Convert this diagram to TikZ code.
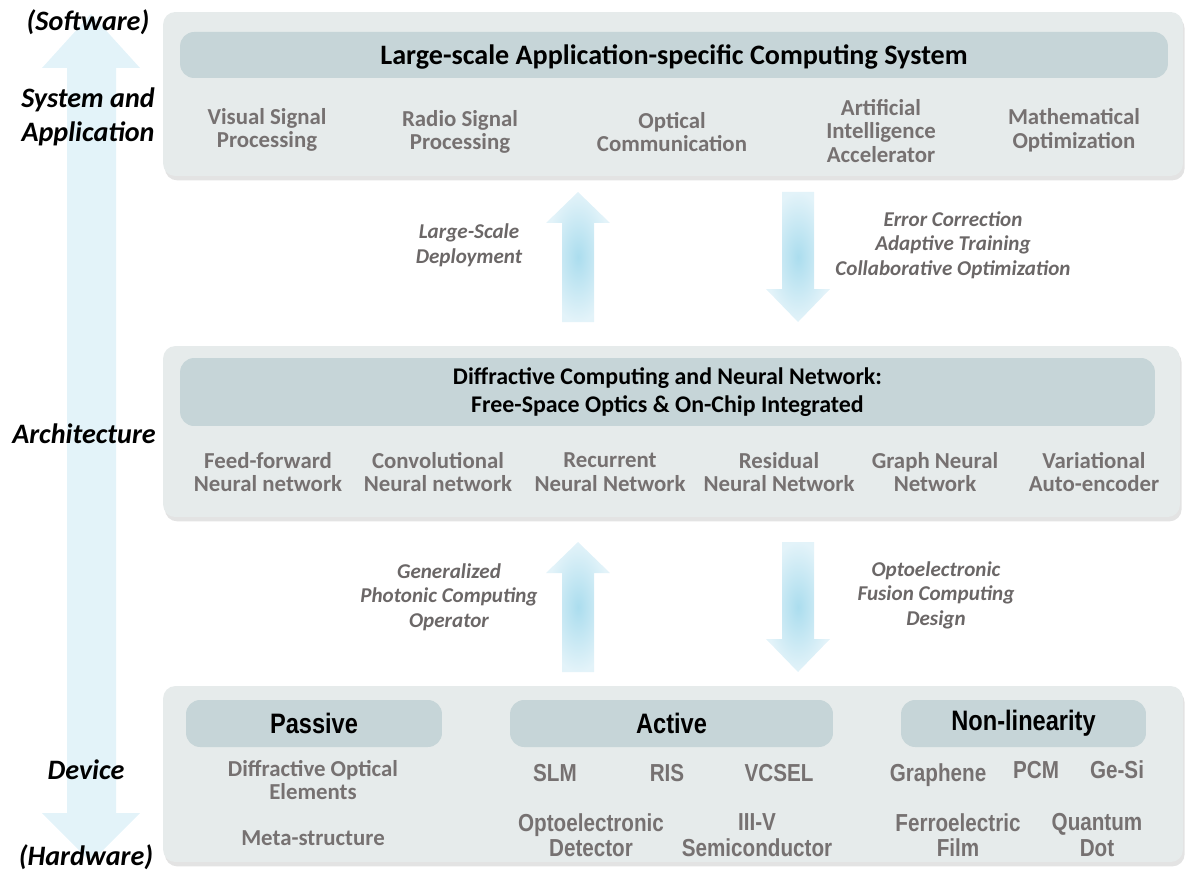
\documentclass[tikz,border=0pt]{standalone}
\usepackage{fontspec}
\setmainfont{Carlito}
\newfontfamily\narrowfont[FakeStretch=0.84]{Liberation Sans}
\usetikzlibrary{shadows}

\definecolor{panelgray}{HTML}{E6EBEB}
\definecolor{headgray}{HTML}{C6D5D8}
\definecolor{itemgray}{HTML}{767171}
\definecolor{notegray}{HTML}{6B6767}
\definecolor{arrowlight}{HTML}{E3F3F9}
\definecolor{arrowdark}{HTML}{ABDDEE}

\tikzset{
  panel/.style={rounded corners=7pt, fill=panelgray, inner sep=0pt,
    drop shadow={shadow xshift=1pt, shadow yshift=-2.5pt, opacity=0.22, fill=gray}},
  headbar/.style={rounded corners=8pt, fill=headgray, inner sep=0pt},
  title/.style={font=\bfseries\fontsize{16}{19}\selectfont, align=center, inner sep=0pt},
  item/.style={font=\bfseries\fontsize{13}{13.5}\selectfont, text=itemgray, align=center, inner sep=0pt},
  devitem/.style={font=\narrowfont\bfseries\fontsize{14}{14.5}\selectfont, text=itemgray, align=center, inner sep=0pt},
  group/.style={font=\narrowfont\bfseries\fontsize{16}{18}\selectfont, inner sep=0pt},
  note/.style={font=\bfseries\itshape\fontsize{12}{14}\selectfont, text=notegray, align=center, inner sep=0pt},
  level/.style={font=\bfseries\itshape\fontsize{16}{19.5}\selectfont, align=center, inner sep=0pt},
  fatarrow/.style={inner color=arrowdark, outer color=arrowlight}
}

\begin{document}
\begin{tikzpicture}[x=0.02cm, y=-0.02cm]
  \useasboundingbox (0,0) rectangle (1185,871);

  % Software-hardware axis
  \shade[top color=arrowlight, middle color=arrowdark, bottom color=arrowlight]
    (91,14) -- (140,68) -- (116,68) -- (116,813) -- (140,813) -- (91,862)
    -- (42,813) -- (67,813) -- (67,68) -- (42,68) -- cycle;
  \node[level] (sw) at (88,22) {(Software)};
  \node[level] (sysapp) at (88,117) {System and\\Application};
  \node[level] (arch) at (84,434) {Architecture};
  \node[level] (device) at (86,770) {Device};
  \node[level] (hw) at (86,857) {(Hardware)};

  % System and application layer
  \node[panel, minimum width=20.4cm, minimum height=3.28cm] (app) at (673,94) {};
  \node[headbar, minimum width=19.76cm, minimum height=0.92cm] (apphead) at (674,55) {};
  \node[title] (apptitle) at (674,57) {Large-scale Application-specific Computing System};
  \node[item] (vsp) at (267,130) {Visual Signal\\Processing};
  \node[item] (rsp) at (460,132) {Radio Signal\\Processing};
  \node[item] (optcom) at (672,132) {Optical\\Communication};
  \node[item] (aiacc) at (881,131) {Artificial\\Intelligence\\Accelerator};
  \node[item] (mathopt) at (1074,130) {Mathematical\\Optimization};

  % Arrows between application and architecture
  \shade[fatarrow] (562,322) -- (562,223) -- (546,223) -- (578,192) -- (610,223)
    -- (594,223) -- (594,322) -- cycle;
  \shade[fatarrow] (782,192) -- (782,289) -- (766,289) -- (798,322) -- (830,289)
    -- (814,289) -- (814,192) -- cycle;
  \node[note] (deploy) at (469,245) {Large-Scale\\Deployment};
  \node[note] (errcorr) at (953,245) {Error Correction\\Adaptive Training\\Collaborative Optimization};

  % Architecture layer
  \node[panel, minimum width=20.34cm, minimum height=3.42cm] (archpanel) at (671.5,431.5) {};
  \node[headbar, minimum width=19.5cm, minimum height=1.36cm] (archhead) at (667.5,392) {};
  \node[title, font=\bfseries\fontsize{13.6}{16}\selectfont] (archtitle) at (archhead)
    {Diffractive Computing and Neural Network:\\Free-Space Optics \& On-Chip Integrated};
  \node[item] (ffnn) at (268,472) {Feed-forward\\Neural network};
  \node[item] (cnn) at (438,472) {Convolutional\\Neural network};
  \node[item] (rnn) at (610,472) {Recurrent\\Neural Network};
  \node[item] (resnn) at (779,472) {Residual\\Neural Network};
  \node[item] (gnn) at (935,472) {Graph Neural\\Network};
  \node[item] (vae) at (1094,472) {Variational\\Auto-encoder};

  % Arrows between architecture and device
  \shade[fatarrow] (562,672) -- (562,573) -- (546,573) -- (578,542) -- (610,573)
    -- (594,573) -- (594,672) -- cycle;
  \shade[fatarrow] (782,542) -- (782,639) -- (766,639) -- (798,672) -- (830,639)
    -- (814,639) -- (814,542) -- cycle;
  \node[note] (photop) at (449,597) {Generalized\\Photonic Computing\\Operator};
  \node[note] (fusion) at (936,595) {Optoelectronic\\Fusion Computing\\Design};

  % Device layer
  \node[panel, minimum width=20.4cm, minimum height=3.52cm] (devpanel) at (673,774) {};
  \node[headbar, minimum width=5.12cm, minimum height=0.94cm] (passhead) at (314,723.5) {};
  \node[headbar, minimum width=6.46cm, minimum height=0.94cm] (acthead) at (671.5,723.5) {};
  \node[headbar, minimum width=4.9cm, minimum height=0.94cm] (nonhead) at (1023.5,723.5) {};
  \node[group] (passive) at (passhead) {Passive};
  \node[group] (active) at (acthead) {Active};
  \node[group] (nonlin) at (nonhead) {Non-linearity};

  \node[item] (doe) at (313,780) {Diffractive Optical\\Elements};
  \node[item] (meta) at (313,838) {Meta-structure};
  \node[devitem] (slm) at (555,773) {SLM};
  \node[devitem] (ris) at (667,773) {RIS};
  \node[devitem] (vcsel) at (779,773) {VCSEL};
  \node[devitem] (oedet) at (591,835) {Optoelectronic\\Detector};
  \node[devitem] (iiiv) at (757,835) {III-V\\Semiconductor};
  \node[devitem] (graphene) at (938,775) {Graphene};
  \node[devitem] (pcm) at (1036,770) {PCM};
  \node[devitem] (gesi) at (1117,770) {Ge-Si};
  \node[devitem] (ferro) at (958,835) {Ferroelectric\\Film};
  \node[devitem] (qdot) at (1097,835) {Quantum\\Dot};
\end{tikzpicture}
\end{document}
